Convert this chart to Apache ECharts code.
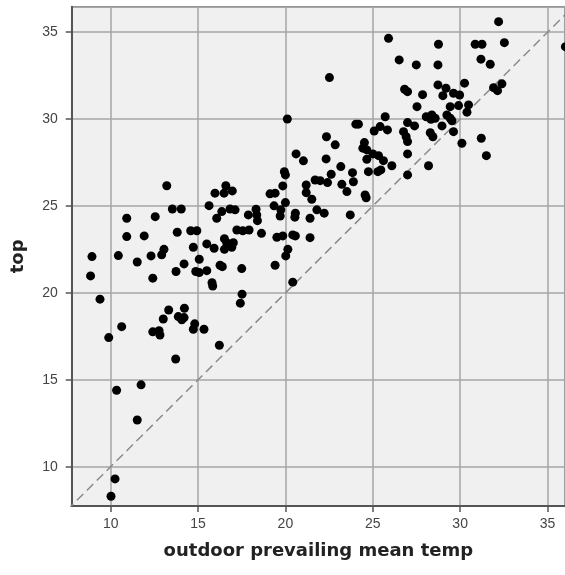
<!DOCTYPE html>
<html>
<head>
<meta charset="utf-8">
<script src="https://cdn.jsdelivr.net/npm/echarts@6/dist/echarts.min.js"></script>
<style>html,body{margin:0;padding:0;background:#fff;}#c{width:565px;height:575px;}</style>
</head>
<body>
<div id="c"></div>
<script>
// axis titles
const xTitle = 'outdoor prevailing mean temp';
const yTitle = 'top';
// axis extents
const xRange = [7.77, 36.0];
const yRange = [7.74, 36.47];
// reference line y = x
const refLine = [[7.5, 7.5], [37, 37]];
// scatter points [outdoor prevailing mean temp, top]
const pointsLow = [
[8.93,22.09],[10.44,22.15],[8.85,20.98],[11.52,21.78],[12.31,22.13],[12.92,22.19],[13.05,22.51],[12.41,20.85],
[13.74,21.23],[14.20,21.67],[14.73,22.63],[15.07,21.94],[14.87,21.23],[15.07,21.17],[15.50,21.28],[15.50,22.82],
[15.92,22.57],[16.51,22.51],[16.64,22.89],[16.93,22.63],[17.02,22.89],[16.26,21.59],[16.39,21.51],[15.80,20.59],
[15.84,20.40],[17.50,21.40],[17.52,19.93],[17.42,19.41],[19.41,21.59],[20.02,22.13],[20.14,22.51],[20.42,20.62],
[9.39,19.64],[13.32,19.02],[14.22,19.12],[13.01,18.50],[13.87,18.64],[14.07,18.45],[14.20,18.58],[14.81,18.22],
[14.73,17.91],[15.34,17.91],[12.41,17.76],[12.77,17.83],[12.82,17.58],[10.63,18.06],[9.89,17.43],[16.22,16.99],
[13.72,16.20],[10.34,14.40],[11.74,14.71],[11.52,12.69],[10.25,9.30],[10.02,8.30]
];
const pointsMid = [
[20.11,30.01],[20.61,28.00],[21.03,27.60],[19.94,26.98],[20.00,26.79],[19.85,26.16],[21.19,26.21],[21.19,25.77],
[21.70,26.50],[21.51,25.39],[21.80,24.78],[13.21,26.17],[16.59,26.17],[16.49,25.74],[16.96,25.87],[15.97,25.74],
[19.12,25.70],[19.41,25.74],[20.00,25.20],[19.35,25.01],[15.63,25.02],[13.53,24.83],[14.04,24.83],[16.36,24.68],
[16.83,24.83],[17.12,24.78],[16.07,24.30],[17.88,24.49],[18.32,24.82],[18.36,24.49],[18.40,24.16],[19.74,24.78],
[19.70,24.43],[20.57,24.59],[20.54,24.36],[21.41,24.30],[10.92,24.30],[12.55,24.39],[13.81,23.49],[14.58,23.58],
[14.93,23.58],[17.22,23.62],[17.56,23.58],[17.92,23.62],[18.63,23.43],[10.92,23.24],[11.92,23.28],[19.51,23.20],
[19.85,23.28],[20.42,23.34],[20.57,23.28],[21.41,23.18],[16.51,23.12]
];
const pointsHigh = [
[32.20,35.61],[32.53,34.40],[36.02,34.17],[25.90,34.65],[28.76,34.31],[30.86,34.31],[31.25,34.31],[26.51,33.41],
[27.49,33.12],[28.73,33.12],[31.19,33.45],[31.72,33.16],[22.52,32.39],[28.73,31.97],[29.19,31.78],[30.25,32.07],
[26.82,31.72],[26.99,31.58],[27.85,31.41],[29.01,31.35],[29.62,31.49],[29.97,31.39],[31.91,31.81],[32.39,32.03],
[32.14,31.64],[27.53,30.72],[29.43,30.72],[29.91,30.78],[30.48,30.82],[30.39,30.40],[25.71,30.14],[28.06,30.14],
[28.38,30.24],[28.33,29.99],[28.57,30.05],[29.24,30.24],[29.43,30.05],[29.53,29.91],[24.03,29.71],[24.18,29.71],
[25.42,29.57],[25.84,29.38],[25.08,29.32],[26.99,29.80],[27.39,29.61],[26.76,29.28],[26.91,28.99],[26.99,28.71],
[28.29,29.22],[28.44,28.99],[28.96,29.61],[29.62,29.28],[22.35,28.99],[22.85,28.52],[24.52,28.65],[24.43,28.33],
[24.66,28.23],[30.10,28.61],[31.21,28.90],[31.50,27.90],[22.33,27.71],[23.17,27.27],[24.66,27.69],[25.01,28.00],
[25.33,27.90],[25.61,27.61],[24.75,26.98],[25.29,26.98],[25.46,27.08],[26.09,27.32],[26.99,28.00],[28.19,27.32],
[26.99,26.79],[23.84,26.92],[23.89,26.40],[22.62,26.83],[21.99,26.46],[22.41,26.35],[23.23,26.25],[23.52,25.83],
[24.56,25.64],[24.62,25.48],[22.22,24.59],[23.71,24.49]
];
const points = pointsLow.concat(pointsMid, pointsHigh);

const chart = echarts.init(document.getElementById('c'), null, {renderer: 'canvas'});
const axisCommon = {
  type: 'value',
  splitNumber: 6,
  axisLine: {show: true, lineStyle: {color: '#555555', width: 2}},
  axisTick: {show: true, length: 6, lineStyle: {color: '#555555', width: 1.5}},
  splitLine: {show: true, lineStyle: {color: '#a6a6a6', width: 1.5}},
  nameLocation: 'middle',
  nameTextStyle: {fontFamily: 'DejaVu Sans', fontWeight: 'bold', fontSize: 18, color: '#222222'}
};
chart.setOption({
  backgroundColor: '#ffffff',
  animation: false,
  grid: {left: 71.7, right: 0, top: 6.7, bottom: 69, show: true, backgroundColor: '#f0f0f0', borderColor: '#666666', borderWidth: 1.5},
  xAxis: Object.assign({}, axisCommon, {
    min: xRange[0], max: xRange[1], name: xTitle, nameGap: 36,
    axisLabel: {showMinLabel: false, showMaxLabel: false, margin: 11, fontFamily: 'Liberation Sans', fontSize: 14, color: '#444444'}
  }),
  yAxis: Object.assign({}, axisCommon, {
    min: yRange[0], max: yRange[1], name: yTitle, nameGap: 44,
    axisLabel: {showMinLabel: false, showMaxLabel: false, margin: 14, fontFamily: 'Liberation Sans', fontSize: 14, color: '#444444'}
  }),
  series: [
    {type: 'line', data: refLine, symbol: 'none', silent: true, clip: true,
     lineStyle: {color: '#8a8a8a', width: 1.5, type: [9, 5]}, z: 1},
    {type: 'scatter', data: points, symbol: 'circle', symbolSize: 9, clip: false,
     itemStyle: {color: '#000000', opacity: 1}, z: 3}
  ]
});
</script>
</body>
</html>
